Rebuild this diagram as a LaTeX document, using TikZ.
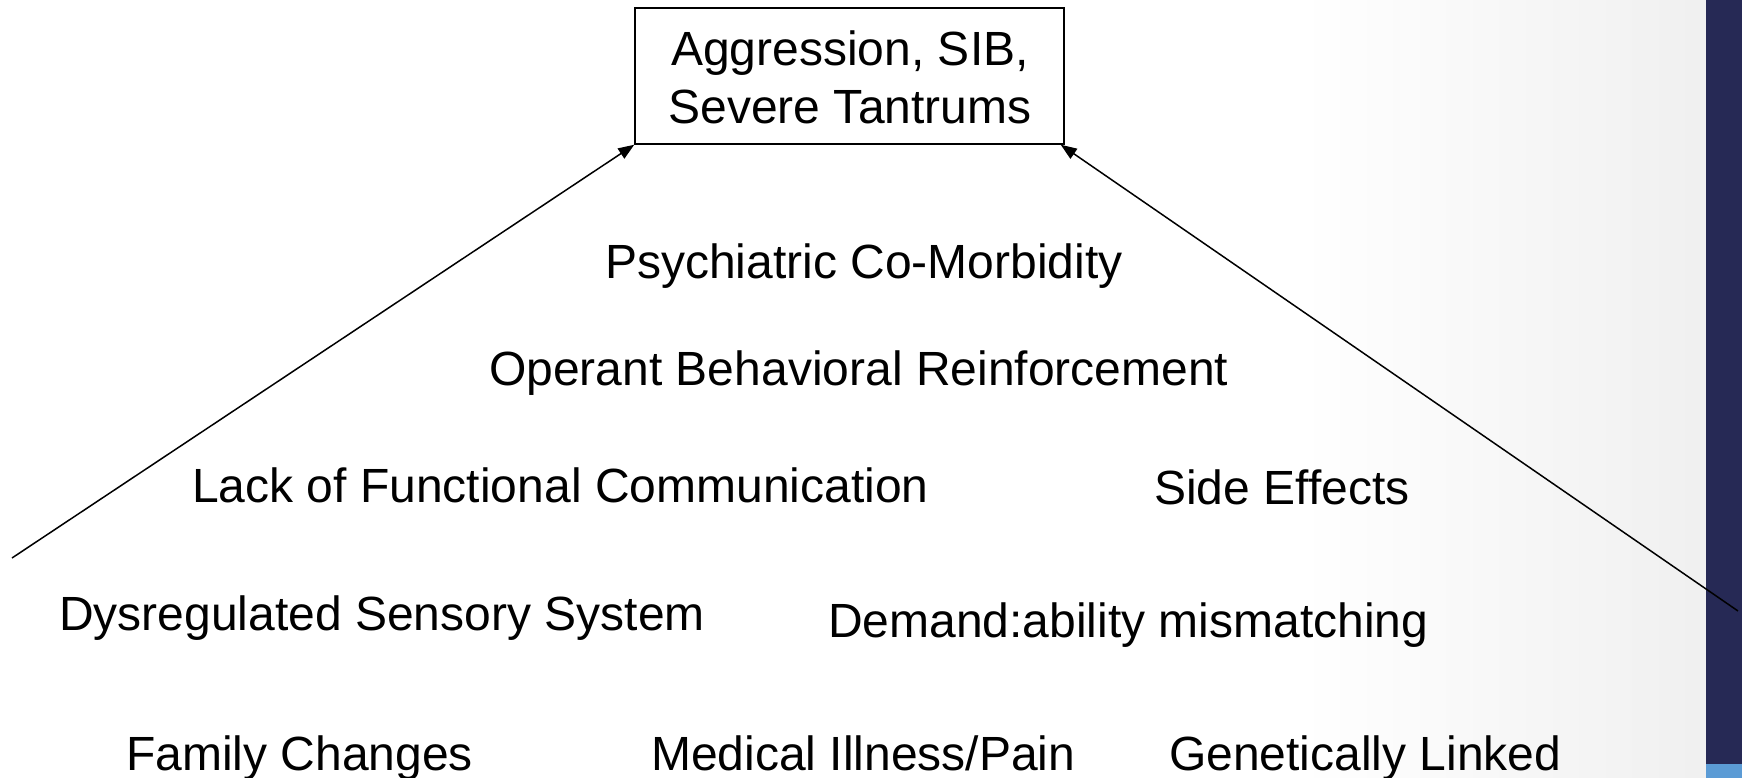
\documentclass[tikz,border=0pt]{standalone}
\usepackage{fontspec}
\setmainfont{Liberation Sans}
\usetikzlibrary{arrows.meta}
\definecolor{barnavy}{RGB}{38,41,85}
\definecolor{barblue}{RGB}{91,155,213}
\begin{document}
\begin{tikzpicture}[x=1pt,y=-1pt,
  lbl/.style={anchor=base west,inner sep=0pt,font=\fontsize{48}{58}\selectfont},
  ctext/.style={anchor=base,inner sep=0pt,font=\fontsize{48}{58}\selectfont},
  mainbox/.style={draw,line width=1.5pt,minimum width=429pt,minimum height=136pt,inner sep=0pt},
  conn/.style={line width=1.5pt,-{Triangle[length=16pt,width=12pt]}}]
% canvas and background
\useasboundingbox (0,0) rectangle (1742,778);
\fill[white] (0,0) rectangle (1742,778);
\shade[left color=white,right color=black!6] (1300,0) rectangle (1706,778);
\fill[barnavy] (1706,0) rectangle (1742,764);
\fill[barblue] (1706,764) rectangle (1742,778);
% top box
\node[mainbox] (box) at (849.5,76) {};
\node[ctext] (boxl1) at (850,66) {Aggression, SIB,};
\node[ctext] (boxl2) at (850,124) {Severe Tantrums};
% factors
\node[lbl] (psych) at (605,278) {Psychiatric Co-Morbidity};
\node[lbl] (operant) at (489,385) {Operant Behavioral Reinforcement};
\node[lbl] (lack) at (192,502) {Lack of Functional Communication};
\node[lbl] (side) at (1154,504) {Side Effects};
\node[lbl] (dysreg) at (59,630) {Dysregulated Sensory System};
\node[lbl] (demand) at (828,637) {Demand:ability mismatching};
\node[lbl] (family) at (126,770) {Family Changes};
\node[lbl] (medical) at (651,770) {Medical Illness/Pain};
\node[lbl] (genetic) at (1169,770) {Genetically Linked};
% connectors
\coordinate (lstart) at (12,558);
\coordinate (rstart) at (1738,611);
\draw[conn] (lstart) -- (box.south west);
\draw[conn] (rstart) -- ([xshift=-4pt]box.south east);
\end{tikzpicture}
\end{document}
